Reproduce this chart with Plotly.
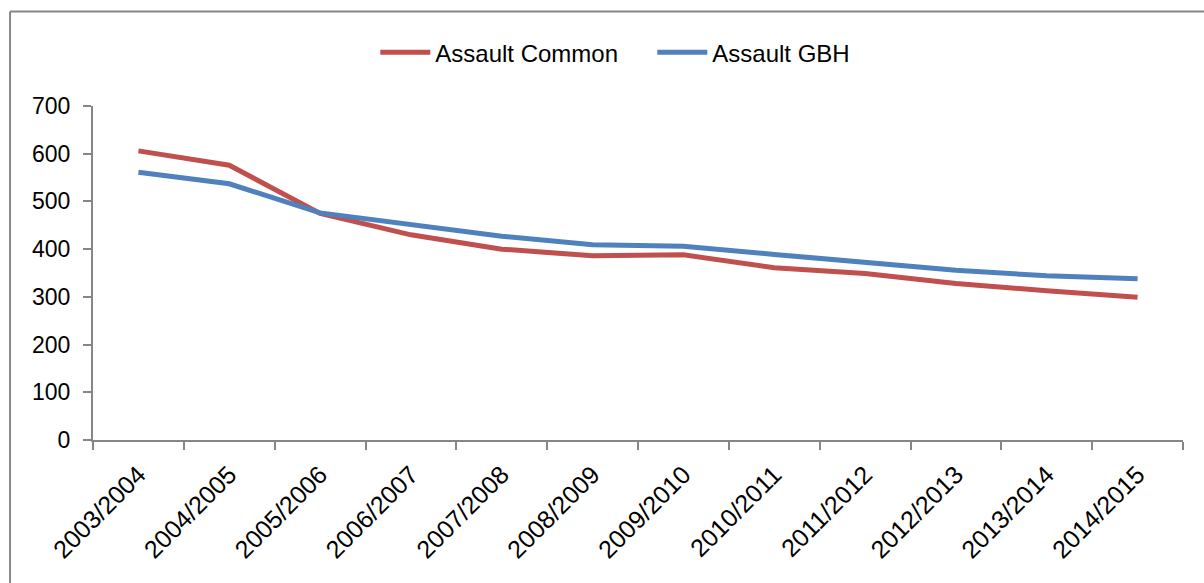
import plotly.graph_objects as go

years = ["2003/2004", "2004/2005", "2005/2006", "2006/2007", "2007/2008", "2008/2009",
         "2009/2010", "2010/2011", "2011/2012", "2012/2013", "2013/2014", "2014/2015"]
assault_common = [606, 576, 475, 430, 400, 386, 388, 361, 349, 328, 313, 299]
assault_gbh = [561, 537, 476, 451, 427, 409, 406, 389, 372, 356, 344, 338]
y_ticks = [0, 100, 200, 300, 400, 500, 600, 700]

FONT = "Liberation Sans, Arial, sans-serif"
AXIS_GREY = "#868686"

fig = go.Figure()
fig.add_trace(go.Scatter(x=years, y=assault_common, mode="lines", name="Assault Common",
                         line=dict(color="#C0504D", width=5)))
fig.add_trace(go.Scatter(x=years, y=assault_gbh, mode="lines", name="Assault GBH",
                         line=dict(color="#4F81BD", width=5)))

fig.update_layout(
    width=1204, height=583,
    margin=dict(l=93, r=21, t=106, b=143),
    paper_bgcolor="white", plot_bgcolor="white",
    font=dict(family=FONT, size=23, color="black"),
    showlegend=True,
    legend=dict(orientation="h", x=0.259, xanchor="left", y=1.16, yanchor="middle",
                font=dict(family=FONT, size=24, color="black"),
                itemwidth=50, entrywidth=212, tracegroupgap=0),
    xaxis=dict(type="category", tickson="boundaries", ticks="outside", ticklen=8,
               range=[-0.5, len(years) - 0.5],
               tickcolor=AXIS_GREY, tickwidth=2, showline=True, linecolor=AXIS_GREY,
               linewidth=2, showgrid=False, tickangle=-45, zeroline=False,
               ticklabelstandoff=8,
               tickfont=dict(family=FONT, size=25, color="black")),
    yaxis=dict(range=[0, 700], tickvals=y_ticks, ticks="outside", ticklen=8,
               tickcolor=AXIS_GREY, tickwidth=2, showline=True, linecolor=AXIS_GREY,
               linewidth=2, showgrid=False, zeroline=False, ticklabelstandoff=8,
               tickfont=dict(family=FONT, size=23, color="black")),
    shapes=[
        dict(type="line", xref="paper", yref="paper", x0=-0.0761, x1=1.05, y0=1.283, y1=1.283,
             line=dict(color=AXIS_GREY, width=2)),
        dict(type="line", xref="paper", yref="paper", x0=-0.0761, x1=-0.0761, y0=1.283, y1=-0.5,
             line=dict(color=AXIS_GREY, width=2)),
    ],
)

fig.write_html("out.html")
